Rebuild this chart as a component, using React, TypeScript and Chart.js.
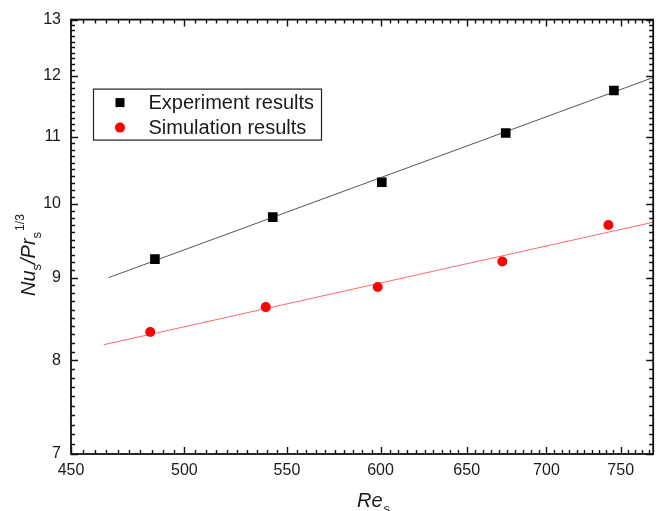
import { useEffect, useRef } from 'react';
import { Chart, registerables } from 'chart.js';

Chart.register(...registerables);

// ---- data ----
const expRe = [486.5, 542.8, 600.7, 674, 745.3];
const expNu = [9.24, 9.81, 10.31, 11.06, 11.75];
const simRe = [484.4, 539.3, 598.4, 671.9, 741.5];
const simNu = [8.33, 8.63, 8.88, 9.21, 9.7];
const expFitRe = [466, 773];
const expFitNu = [9.0, 11.97];
const simFitRe = [464, 773];
const simFitNu = [8.18, 9.74];

const xTicks = [450, 500, 550, 600, 650, 700, 750];
const yTicks = [7, 8, 9, 10, 11, 12, 13];
const X_MIN = 450;
const X_MAX = 773;
const Y_MIN = 7;
const Y_MAX = 13;
const X_MINOR_STEP = 5;
const Y_MINOR_TENTHS = 1; // minor every 0.1

const legendLabels = ['Experiment results', 'Simulation results'];

const FONT = '"Liberation Sans", Arial, sans-serif';
const TEXT = '#1a1a1a';

const toPts = (xs: number[], ys: number[]) => xs.map((x, i) => ({ x, y: ys[i] }));

const decorPlugin = {
  id: 'decor',
  afterDraw(chart: any) {
    const { ctx, chartArea: a } = chart;
    const xs = chart.scales.x;
    const ys = chart.scales.y;
    ctx.save();
    ctx.strokeStyle = '#111';
    ctx.lineWidth = 1.4;
    ctx.beginPath();
    // x ticks (bottom and top, inward)
    for (let v = X_MIN; v <= X_MAX; v += X_MINOR_STEP) {
      const px = Math.round(xs.getPixelForValue(v)) + 0.5;
      const len = xTicks.includes(v) ? 7 : 4;
      ctx.moveTo(px, a.bottom);
      ctx.lineTo(px, a.bottom - len);
      ctx.moveTo(px, a.top);
      ctx.lineTo(px, a.top + len);
    }
    // y ticks (left and right, inward)
    for (let k = Y_MIN * 10; k <= Y_MAX * 10; k += Y_MINOR_TENTHS) {
      const v = k / 10;
      const py = Math.round(ys.getPixelForValue(v)) + 0.5;
      const len = k % 10 === 0 ? 7 : 4;
      ctx.moveTo(a.left, py);
      ctx.lineTo(a.left + len, py);
      ctx.moveTo(a.right, py);
      ctx.lineTo(a.right - len, py);
    }
    ctx.stroke();
    // frame
    ctx.lineWidth = 1.8;
    ctx.strokeRect(a.left, a.top, a.right - a.left, a.bottom - a.top);

    // legend
    const lx = a.left + 22.5;
    const ly = a.top + 69.5;
    ctx.lineWidth = 1.2;
    ctx.strokeStyle = '#222';
    ctx.strokeRect(lx, ly, 228, 51);
    ctx.fillStyle = '#000';
    ctx.fillRect(lx + 22, ly + 9, 9, 9);
    ctx.fillStyle = '#ff0000';
    ctx.beginPath();
    ctx.arc(lx + 26.5, ly + 38.5, 5, 0, Math.PI * 2);
    ctx.fill();
    ctx.fillStyle = TEXT;
    ctx.font = `20px ${FONT}`;
    ctx.textBaseline = 'middle';
    ctx.textAlign = 'left';
    ctx.fillText(legendLabels[0], lx + 55, ly + 14);
    ctx.fillText(legendLabels[1], lx + 55, ly + 39);

    // x axis title: Re_s
    ctx.textBaseline = 'alphabetic';
    let cx = 357;
    ctx.font = `italic 20px ${FONT}`;
    ctx.fillText('Re', cx, 507);
    cx += ctx.measureText('Re').width + 1;
    ctx.font = `13px ${FONT}`;
    ctx.fillText('s', cx, 513);

    // y axis title: Nu_s/Pr_s^(1/3)
    ctx.save();
    ctx.translate(35, 296);
    ctx.rotate(-Math.PI / 2);
    const parts: [string, string, number, number][] = [
      ['Nu', `italic 20px ${FONT}`, 0, 0],
      ['s', `13px ${FONT}`, 6, 0],
      ['/', `italic 20px ${FONT}`, 0, 0],
      ['Pr', `italic 20px ${FONT}`, 0, 0],
      ['s', `13px ${FONT}`, 6, 1],
      ['1/3', `12px ${FONT}`, -11, 0],
    ];
    let tx = 0;
    for (const [t, f, dy, gap] of parts) {
      ctx.font = f;
      ctx.fillText(t, tx, dy);
      tx += ctx.measureText(t).width + gap;
    }
    ctx.restore();
    ctx.restore();
  },
};

export default function App() {
  const ref = useRef<HTMLCanvasElement | null>(null);
  useEffect(() => {
    if (!ref.current) return;
    const chart = new Chart(ref.current, {
      type: 'scatter',
      data: {
        datasets: [
          {
            label: legendLabels[0],
            data: toPts(expRe, expNu),
            pointStyle: 'rect',
            pointRadius: 6.8,
            backgroundColor: '#000',
            borderColor: '#000',
            borderWidth: 0,
            showLine: false,
          },
          {
            label: legendLabels[1],
            data: toPts(simRe, simNu),
            pointStyle: 'circle',
            pointRadius: 5,
            backgroundColor: '#ff0000',
            borderColor: '#ff0000',
            borderWidth: 0,
            showLine: false,
          },
          {
            label: 'exp fit',
            data: toPts(expFitRe, expFitNu),
            showLine: true,
            pointRadius: 0,
            borderColor: '#555',
            borderWidth: 1,
          },
          {
            label: 'sim fit',
            data: toPts(simFitRe, simFitNu),
            showLine: true,
            pointRadius: 0,
            borderColor: '#ff6a6a',
            borderWidth: 1,
          },
        ],
      },
      options: {
        animation: false,
        responsive: false,
        maintainAspectRatio: false,
        layout: { padding: { top: 19, right: 6, left: 0, bottom: 0 } },
        plugins: { legend: { display: false }, tooltip: { enabled: false } },
        scales: {
          x: {
            type: 'logarithmic',
            min: X_MIN,
            max: X_MAX,
            bounds: 'data',
            grid: { display: false, drawTicks: false },
            border: { display: false },
            afterBuildTicks: (s: any) => {
              s.ticks = xTicks.map((v) => ({ value: v }));
            },
            afterFit: (s: any) => {
              s.height = 57;
            },
            ticks: {
              autoSkip: false,
              maxRotation: 0,
              padding: 7,
              color: TEXT,
              font: { family: FONT, size: 16 },
              callback: (v: any) => String(v),
            },
          },
          y: {
            type: 'logarithmic',
            min: Y_MIN,
            max: Y_MAX,
            bounds: 'data',
            grid: { display: false, drawTicks: false },
            border: { display: false },
            afterBuildTicks: (s: any) => {
              s.ticks = yTicks.map((v) => ({ value: v }));
            },
            afterFit: (s: any) => {
              s.width = 71;
            },
            ticks: {
              autoSkip: false,
              padding: 10,
              color: TEXT,
              font: { family: FONT, size: 16 },
              callback: (v: any) => String(v),
            },
          },
        },
      } as any,
      plugins: [decorPlugin],
    });
    return () => chart.destroy();
  }, []);
  return (
    <div style={{ position: 'absolute', left: 0, top: 0, width: 660, height: 511, background: '#fff' }}>
      <canvas ref={ref} width={660} height={511} style={{ width: 660, height: 511, display: 'block' }} />
    </div>
  );
}
